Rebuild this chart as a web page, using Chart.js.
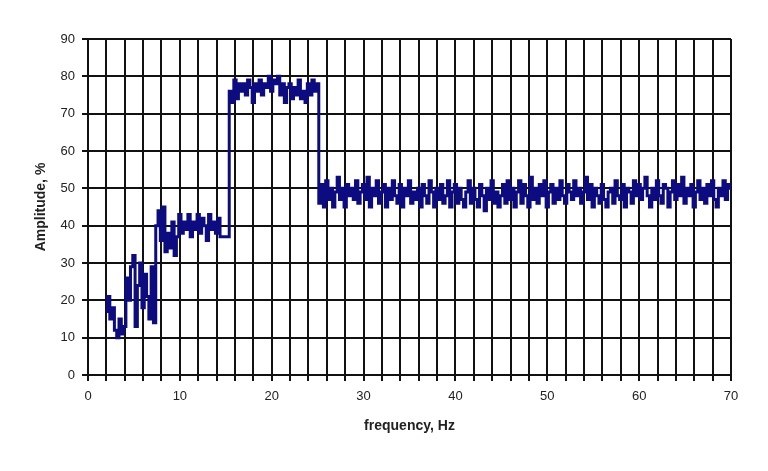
<!DOCTYPE html>
<html>
<head>
<meta charset="utf-8">
<script src="https://cdn.jsdelivr.net/npm/chart.js@4/dist/chart.umd.min.js"></script>
<style>
  html, body { margin: 0; padding: 0; background: #fff; }
  #wrap { width: 768px; height: 471px; position: relative; }
</style>
</head>
<body>
<div id="wrap"><canvas id="c" width="768" height="471"></canvas></div>
<script>
// Frequency (Hz) sample positions
const freq = [
  2,2.25,2.5,2.75, 3,3.25,3.5,3.75, 4,4.25,4.5,4.75, 5,5.25,5.5,5.75,
  6,6.25,6.5,6.75, 7,7.25,7.5,7.75, 8,8.25,8.5,8.75, 9,9.25,9.5,9.75,
  10,10.25,10.5,10.75, 11,11.25,11.5,11.75, 12,12.25,12.5,12.75, 13,13.25,13.5,13.75,
  14,14.25,14.5,14.75, 15,15.25,15.5,15.75, 16,16.25,16.5,16.75, 17,17.25,17.5,17.75,
  18,18.25,18.5,18.75, 19,19.25,19.5,19.75, 20,20.25,20.5,20.75, 21,21.25,21.5,21.75,
  22,22.25,22.5,22.75, 23,23.25,23.5,23.75, 24,24.25,24.5,24.75, 25,25.25,25.5,25.75,
  26,26.25,26.5,26.75, 27,27.25,27.5,27.75, 28,28.25,28.5,28.75, 29,29.25,29.5,29.75,
  30,30.25,30.5,30.75, 31,31.25,31.5,31.75, 32,32.25,32.5,32.75, 33,33.25,33.5,33.75,
  34,34.25,34.5,34.75, 35,35.25,35.5,35.75, 36,36.25,36.5,36.75, 37,37.25,37.5,37.75,
  38,38.25,38.5,38.75, 39,39.25,39.5,39.75, 40,40.25,40.5,40.75, 41,41.25,41.5,41.75,
  42,42.25,42.5,42.75, 43,43.25,43.5,43.75, 44,44.25,44.5,44.75, 45,45.25,45.5,45.75,
  46,46.25,46.5,46.75, 47,47.25,47.5,47.75, 48,48.25,48.5,48.75, 49,49.25,49.5,49.75,
  50,50.25,50.5,50.75, 51,51.25,51.5,51.75, 52,52.25,52.5,52.75, 53,53.25,53.5,53.75,
  54,54.25,54.5,54.75, 55,55.25,55.5,55.75, 56,56.25,56.5,56.75, 57,57.25,57.5,57.75,
  58,58.25,58.5,58.75, 59,59.25,59.5,59.75, 60,60.25,60.5,60.75, 61,61.25,61.5,61.75,
  62,62.25,62.5,62.75, 63,63.25,63.5,63.75, 64,64.25,64.5,64.75, 65,65.25,65.5,65.75,
  66,66.25,66.5,66.75, 67,67.25,67.5,67.75, 68,68.25,68.5,68.75, 69,69.25,69.5,69.75,
  70
];

// Amplitude (%)
const amplitude = [
  17,21,15,18, 12,10,15,11, 13,26,20,29, 32,13,24,30,
  18,27,21,15, 29,14,40,44, 36,45,33,38, 34,41,32,37,
  43,38,41,39, 43,37,41,39, 43,38,42,40, 36,43,39,41,
  38,42,37,37, 37,37,76,73, 79,74,78,76, 78,75,79,77,
  73,78,76,79, 75,78,77,80, 76,79,78,80, 75,78,73,77,
  78,74,77,75, 79,74,76,73, 78,75,79,76, 78,46,51,45,
  52,47,50,45, 49,53,47,50, 45,51,48,50, 47,52,46,49,
  51,47,53,45, 50,48,52,46, 49,51,45,50, 47,52,48,46,
  51,45,50,48, 52,46,49,47, 50,45,51,48, 46,52,49,45,
  50,47,51,46, 48,52,45,49, 51,46,50,47, 45,49,52,46,
  50,47,45,51, 48,44,50,47, 52,46,49,45, 48,51,46,52,
  47,50,45,49, 52,46,51,48, 45,53,47,50, 46,51,48,52,
  45,49,51,46, 50,47,52,48, 46,51,49,47, 52,48,50,46,
  49,53,47,51, 45,50,48,46, 51,47,45,49, 50,46,52,48,
  47,51,45,50, 49,46,52,48, 51,47,50,53, 48,45,50,47,
  52,48,46,51, 50,45,49,52, 47,51,48,53, 46,50,48,51,
  45,49,52,47, 50,46,51,48, 52,47,45,50, 48,52,47,51,
  50
];

const xLabelValues = [0, 10, 20, 30, 40, 50, 60, 70];
const yLabelValues = [0, 10, 20, 30, 40, 50, 60, 70, 80, 90];
const xTitle = 'frequency, Hz';
const yTitle = 'Amplitude, %';

const points = freq.map((f, i) => ({ x: f, y: amplitude[i] }));

const whiteBg = {
  id: 'whiteBg',
  beforeDraw(chart) {
    const ctx = chart.ctx;
    ctx.save();
    ctx.fillStyle = '#fff';
    ctx.fillRect(0, 0, chart.width, chart.height);
    ctx.restore();
  }
};

const FONT = 'Liberation Sans, Arial, sans-serif';

new Chart(document.getElementById('c'), {
  type: 'line',
  data: {
    datasets: [{
      data: points,
      borderColor: '#0c0c80',
      borderWidth: 3,
      pointRadius: 0,
      tension: 0,
      stepped: 'middle',
      fill: false
    }]
  },
  options: {
    responsive: false,
    animation: false,
    devicePixelRatio: 1,
    layout: { padding: { left: 0, top: 39, right: 37, bottom: 32 } },
    plugins: { legend: { display: false }, tooltip: { enabled: false } },
    scales: {
      x: {
        type: 'linear',
        min: 0, max: 70,
        afterBuildTicks(scale) {
          const t = [];
          for (let v = 0; v <= 70; v += 2) t.push({ value: v });
          scale.ticks = t;
        },
        afterFit(scale) { scale.height = 64; },
        grid: { color: '#111', lineWidth: 2, tickLength: 6, drawTicks: true },
        border: { color: '#111', width: 2 },
        ticks: {
          autoSkip: false,
          maxRotation: 0,
          padding: 8,
          color: '#222',
          font: { family: FONT, size: 13 },
          callback: (v) => xLabelValues.includes(v) ? String(v) : ''
        },
        title: {
          display: true, text: xTitle, color: '#222',
          font: { family: FONT, size: 14, weight: 'bold' },
          padding: { top: 4, bottom: 4 }
        }
      },
      y: {
        type: 'linear',
        min: 0, max: 90,
        afterBuildTicks(scale) {
          scale.ticks = yLabelValues.map(v => ({ value: v }));
        },
        afterFit(scale) { scale.width = 88; },
        grid: { color: '#111', lineWidth: 2, tickLength: 6, drawTicks: true },
        border: { color: '#111', width: 2 },
        ticks: {
          padding: 7,
          color: '#222',
          font: { family: FONT, size: 13 },
          callback: (v) => String(v)
        },
        title: {
          display: true, text: yTitle, color: '#222',
          font: { family: FONT, size: 14, weight: 'bold' },
          padding: { top: 33, bottom: 0 }
        }
      }
    }
  },
  plugins: [whiteBg]
});
</script>
</body>
</html>
